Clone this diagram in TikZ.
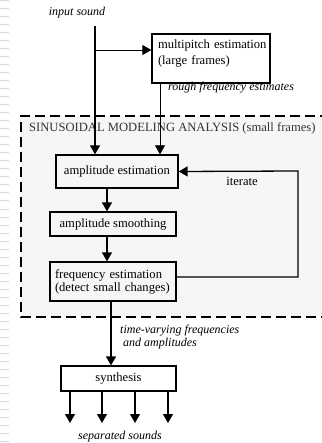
\documentclass[tikz,border=0pt]{standalone}
\usepackage{fontspec}
\setmainfont{Liberation Serif}
\usetikzlibrary{arrows.meta}
\usetikzlibrary{positioning}

\begin{document}
\begin{tikzpicture}[x=1pt,y=-1pt,
	box/.style={draw,line width=1.3pt,rectangle,inner sep=0pt,font=\fontsize{12.6}{14}\selectfont},
	lbl/.style={inner sep=0pt,font=\itshape\fontsize{12}{12.7}\selectfont},
	flow/.style={line width=1.3pt,-{Triangle[length=9pt,width=10pt]}},
	thinflow/.style={line width=0.8pt,-{Triangle[length=9pt,width=10pt]}}]
\useasboundingbox (0,0) rectangle (321,443);

%slide strip
\foreach \y in {1,9,...,443}
	\draw[gray!30,line width=1pt] (0,\y) -- (9,\y);

%analysis frame
\fill[gray!7] (21,116) rectangle (330,317);
\draw[line width=1.3pt,dash pattern=on 10pt off 5pt] (330,116) -- (21,116) -- (21,317) -- (330,317);
\node[anchor=west,inner sep=0pt,text=black!80,font=\fontsize{12.6}{14}\selectfont] (title) at (29,128) {SINUSOIDAL MODELING ANALYSIS (small frames)};

%blocks
\node[box,minimum width=118,minimum height=49,text width=112,align=left,font=\fontsize{12.6}{16}\selectfont] (multi) at (211,58.5) {\hspace*{3pt}multipitch estimation\\\hspace*{3pt}(large frames)\\[-3pt]\mbox{}};
\node[box,minimum width=122,minimum height=33] (amp) at (117,171.5) {amplitude estimation};
\node[box,minimum width=126,minimum height=24] (smooth) at (113,224) {amplitude smoothing};
\node[box,minimum width=126,minimum height=39,text width=120,align=left,font=\fontsize{12.6}{13}\selectfont] (freq) at (113,281.5) {\hspace*{2pt}frequency estimation\\\hspace*{2pt}(detect small changes)};
\node[box,minimum width=115,minimum height=25] (synth) at (118.5,378.5) {synthesis};

%labels
\node[lbl] (insound) at (77,13) {input sound};
\node[lbl,anchor=west] (rough) at (168,88) {rough frequency estimates};
\node[inner sep=0pt,font=\fontsize{12.6}{14}\selectfont] (iter) at (242,181) {iterate};
\node[lbl,anchor=west,align=left] (tv) at (120,337) {time-varying frequencies\\ \ and amplitudes};
\node[lbl] (sep) at (120,437) {separated sounds};

%connectors
\coordinate (intop) at (95,26);
\coordinate (split) at (95,50);
\coordinate (loop) at (298,171);
\draw[flow] (intop) -- (intop |- amp.north);
\draw[thinflow] (split) -- (split -| multi.west);
\draw[thinflow] ([xshift=-51pt]multi.south) -- ([xshift=-51pt]multi.south |- amp.north);
\draw[flow] ([xshift=-10pt]amp.south) -- ([xshift=-10pt]amp.south |- smooth.north);
\draw[flow] ([xshift=-6pt]smooth.south) -- ([xshift=-6pt]smooth.south |- freq.north);
\draw[flow] ([xshift=-2pt]freq.south) -- ([xshift=-2pt]freq.south |- synth.north);
\draw[flow] ([yshift=4.5pt]freq.east) -| (loop) -- (amp.east);

%outputs
\foreach \x [count=\i] in {70,102,135,168}{
	\coordinate (out\i) at (\x,423);
	\draw[flow] (out\i |- synth.south) -- (out\i);}
\end{tikzpicture}
\end{document}
